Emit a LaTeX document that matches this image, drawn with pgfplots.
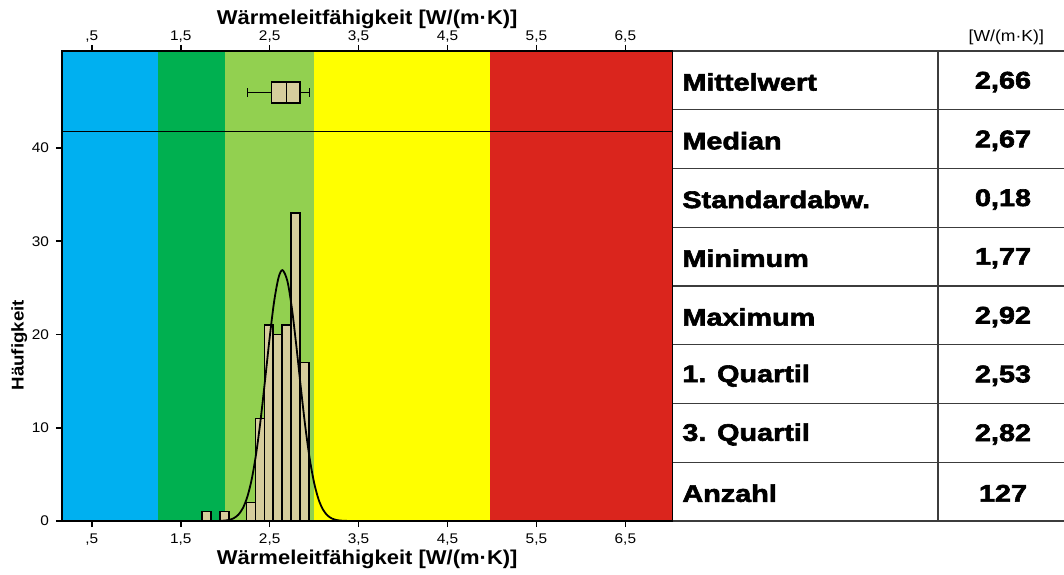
\documentclass[border=0pt]{standalone}
\usepackage{pgfplots}
\pgfplotsset{compat=1.18}
\usepgfplotslibrary{statistics}
\usepackage{fontspec}
\setmainfont{Liberation Sans}[FakeStretch=1.1]
\newfontfamily\tabfont{Liberation Sans}[FakeStretch=1.2, BoldFeatures={FakeBold=2.5}]

\definecolor{cblue}{RGB}{0,176,240}
\definecolor{cdgreen}{RGB}{0,176,80}
\definecolor{clgreen}{RGB}{146,208,80}
\definecolor{cyellow}{RGB}{255,255,0}
\definecolor{cred}{RGB}{218,37,29}
\definecolor{ctan}{RGB}{214,205,156}
\definecolor{tline}{RGB}{60,60,60}

\begin{document}
\begin{tikzpicture}
\useasboundingbox (-31pt,-26.5pt) rectangle (501pt,260.5pt);
% main panel: bands, histogram, normal curve, boxplot
\begin{axis}[
    name=main,
    scale only axis,
    width=305.25pt, height=235pt,
    xmin=0.165, xmax=7.03,
    ymin=0, ymax=50.4,
    xtick={0.5,1.5,2.5,3.5,4.5,5.5,6.5},
    xticklabels={{,5},{1,5},{2,5},{3,5},{4,5},{5,5},{6,5}},
    ytick={0,10,20,30,40},
    xtick pos=left, ytick pos=left,
    tick align=outside,
    major tick length=3pt,
    /pgf/number format/assume math mode=true,
    tick label style={font=\fontsize{7}{8}\selectfont},
    axis line style={line width=0.8pt},
    every tick/.style={black, line width=0.8pt},
    xlabel={Wärmeleitfähigkeit [W/(m·K)]},
    xlabel style={font=\fontsize{10}{12}\selectfont\bfseries, yshift=4.5pt},
    ylabel={Häufigkeit},
    ylabel style={font=\fontsize{8.5}{10}\selectfont\bfseries, at={(axis description cs:-0.07,0.374)}, anchor=center},
    axis on top,
]
% colour bands
\addplot[fill=cblue, draw=none] coordinates {(0.165,50.4) (1.25,50.4)} \closedcycle;
\addplot[fill=cdgreen, draw=none] coordinates {(1.25,50.4) (2.0,50.4)} \closedcycle;
\addplot[fill=clgreen, draw=none] coordinates {(2.0,50.4) (3.0,50.4)} \closedcycle;
\addplot[fill=cyellow, draw=none] coordinates {(3.0,50.4) (4.98,50.4)} \closedcycle;
\addplot[fill=cred, draw=none] coordinates {(4.98,50.4) (7.03,50.4)} \closedcycle;
% separator between boxplot and histogram
\addplot[black, line width=0.8pt] coordinates {(0.165,41.77) (7.03,41.77)};
% histogram (bin width 0.1)
\addplot[ybar interval, fill=ctan, draw=black, line width=0.8pt] coordinates {
    (1.74,1) (1.84,0) (1.94,1) (2.04,0) (2.14,0) (2.24,2) (2.34,11)
    (2.44,21) (2.54,20) (2.64,21) (2.74,33) (2.84,17) (2.94,0)
};
% normal curve
\addplot[smooth, black, line width=0.9pt] coordinates {
    (1.95,0.02) (2.00,0.054) (2.05,0.136) (2.10,0.319) (2.15,0.694)
    (2.20,1.40) (2.25,2.62) (2.30,4.55) (2.35,7.34) (2.40,10.98)
    (2.45,15.25) (2.50,19.65) (2.55,23.51) (2.60,26.10) (2.645,26.9)
    (2.70,25.71) (2.75,22.82) (2.80,18.79) (2.85,14.36) (2.90,10.19)
    (2.95,6.71) (3.00,4.10) (3.05,2.32) (3.10,1.22) (3.15,0.60)
    (3.20,0.27) (3.25,0.11) (3.30,0.044) (3.35,0.016) (3.40,0.005)
};
% boxplot
\addplot[boxplot prepared={lower whisker=2.25, lower quartile=2.52,
        median=2.69, upper quartile=2.84, upper whisker=2.95,
        draw position=45.95, box extend=2.2, whisker extend=0.9},
    boxplot/draw direction=x, fill=ctan, draw=black, line width=0.8pt]
    coordinates {};
\end{axis}
% top axis: ticks and title only
\begin{axis}[
    scale only axis,
    width=305.25pt, height=235pt,
    xmin=0.165, xmax=7.03,
    ymin=0, ymax=50.4,
    axis x line*=top, axis y line=none,
    xtick={0.5,1.5,2.5,3.5,4.5,5.5,6.5},
    xticklabels={{,5},{1,5},{2,5},{3,5},{4,5},{5,5},{6,5}},
    tick align=outside,
    major tick length=3pt,
    tick label style={font=\fontsize{7}{8}\selectfont},
    xticklabel style={yshift=-2pt},
    axis line style={line width=0.8pt, -},
    every tick/.style={black, line width=0.8pt},
    xlabel={Wärmeleitfähigkeit [W/(m·K)]},
    xlabel style={font=\fontsize{10}{12}\selectfont\bfseries, yshift=-6pt},
]
\end{axis}
% statistics table
\foreach \k in {0,...,8} {
    \draw[tline, line width=0.7pt] (305.25pt,235pt-\k*29.375pt) -- (501pt,235pt-\k*29.375pt);
}
\draw[tline, line width=0.7pt] (438pt,0pt) -- (438pt,235pt);
\node[anchor=east, font=\fontsize{8}{9}\selectfont] at (494.5pt,242pt) {[W/(m·K)]};
\foreach \lab/\val [count=\i from 0] in {Mittelwert/{2,66}, Median/{2,67}, Standardabw./{0,18},
        Minimum/{1,77}, Maximum/{2,92}, 1. Quartil/{2,53}, 3. Quartil/{2,82}, Anzahl/127} {
    \node[anchor=west, inner sep=0pt, font=\fontsize{12}{14}\tabfont\bfseries] at (310pt,235pt-\i*29.375pt-15.5pt) {\lab};
    \node[anchor=center, inner sep=0pt, font=\fontsize{12}{14}\tabfont\bfseries] at (470.5pt,235pt-\i*29.375pt-15.5pt) {\val};
}
\end{tikzpicture}
\end{document}
